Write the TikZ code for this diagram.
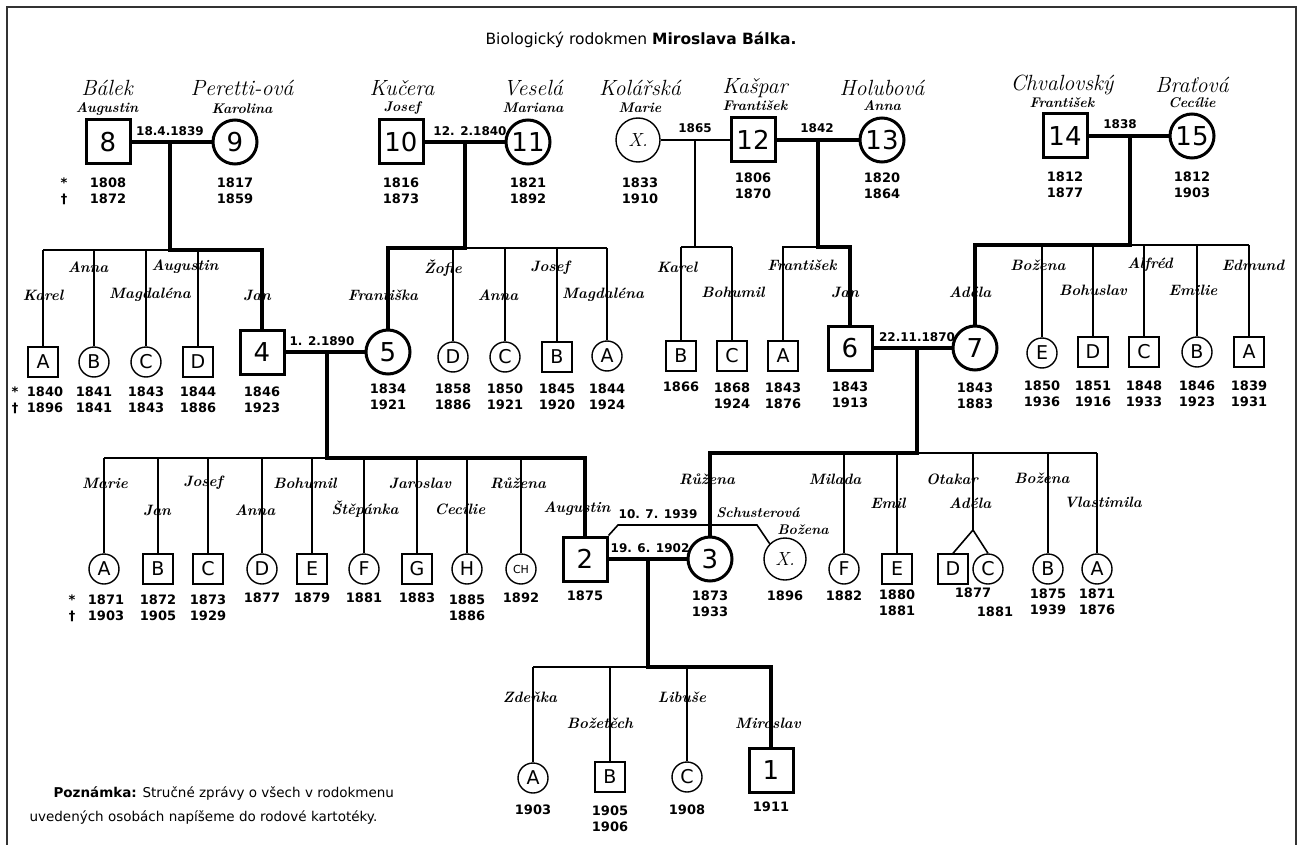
\documentclass[tikz,border=0pt]{standalone}
\usepackage{fontspec}
\setsansfont{DejaVu Sans}
\usetikzlibrary{positioning}

\tikzset{
  man/.style={draw, rectangle, minimum size=30pt, inner sep=0pt, line width=1.4pt, font=\sffamily\fontsize{19}{19}\selectfont},
  woman/.style={draw, circle, minimum size=30pt, inner sep=0pt, line width=1.4pt, font=\sffamily\fontsize{19}{19}\selectfont},
  anc/.style={minimum size=44pt, line width=3pt, font=\sffamily\fontsize{26}{26}\selectfont},
  surname/.style={font=\itshape\fontsize{22}{22}\selectfont},
  given/.style={font=\bfseries\itshape\fontsize{14}{14}\selectfont},
  kid/.style={font=\bfseries\itshape\fontsize{15}{15}\selectfont},
  yrs/.style={font=\sffamily\bfseries\fontsize{13}{16}\selectfont, align=center, inner sep=0pt},
  wed/.style={font=\sffamily\bfseries\fontsize{12}{12}\selectfont, inner sep=1pt},
  fine/.style={line width=1.6pt},
  heavy/.style={line width=3.8pt},
}

\begin{document}
\begin{tikzpicture}[x=1pt, y=-1pt]
  \useasboundingbox (0,0) rectangle (1303,845);
  \draw[line width=2.5pt, black!80] (7,845) -- (7,7) -- (1296,7) -- (1296,845);

  \node[font=\sffamily\fontsize{15.5}{15.5}\selectfont] (title) at (641,40) {Biologický rodokmen \textbf{Miroslava Bálka.}};

  % generation 1
  \node[man, anc] (n8) at (108,142) {8};
  \node[woman, anc] (n9) at (235,142) {9};
  \node[man, anc] (n10) at (401,142) {10};
  \node[woman, anc] (n11) at (528,142) {11};
  \node[woman, minimum size=44pt] (nX1) at (638,140) {\rmfamily\itshape X.};
  \node[man, anc] (n12) at (753,140) {12};
  \node[woman, anc] (n13) at (882,140) {13};
  \node[man, anc] (n14) at (1065,136) {14};
  \node[woman, anc] (n15) at (1192,136) {15};

  \node[surname] (sn8) at (107,88) {Bálek};
  \node[given] (gn8) at (107,109) {Augustin};
  \node[surname] (sn9) at (242,88) {Peretti-ová};
  \node[given] (gn9) at (242,109) {Karolina};
  \node[surname] (sn10) at (402,88) {Kučera};
  \node[given] (gn10) at (402,108) {Josef};
  \node[surname] (sn11) at (533,88) {Veselá};
  \node[given] (gn11) at (533,108) {Mariana};
  \node[surname] (snX1) at (640,88) {Kolářská};
  \node[given] (gnX1) at (640,108) {Marie};
  \node[surname] (sn12) at (755,88) {Kašpar};
  \node[given] (gn12) at (755,106) {František};
  \node[surname] (sn13) at (882,88) {Holubová};
  \node[given] (gn13) at (882,106) {Anna};
  \node[surname] (sn14) at (1062,85) {Chvalovský};
  \node[given] (gn14) at (1062,103) {František};
  \node[surname] (sn15) at (1192,85) {Braťová};
  \node[given] (gn15) at (1192,103) {Cecílie};

  \node[yrs] (s8) at (64,191) {*\\†};
  \node[yrs] (y8) at (108,191) {1808\\1872};
  \node[yrs] (y9) at (235,191) {1817\\1859};
  \node[yrs] (y10) at (401,191) {1816\\1873};
  \node[yrs] (y11) at (528,191) {1821\\1892};
  \node[yrs] (yX1) at (640,191) {1833\\1910};
  \node[yrs] (y12) at (753,186) {1806\\1870};
  \node[yrs] (y13) at (882,186) {1820\\1864};
  \node[yrs] (y14) at (1065,185) {1812\\1877};
  \node[yrs] (y15) at (1192,185) {1812\\1903};

  \draw[heavy] (n8) -- (n9);
  \draw[heavy] (n10) -- (n11);
  \draw[fine] (nX1) -- (n12);
  \draw[heavy] (n12) -- (n13);
  \draw[heavy] (n14) -- (n15);
  \node[wed] (w89) at (170,131) {18.4.1839};
  \node[wed] (w1011) at (470,131) {12. 2.1840};
  \node[wed] (wX12) at (695,128) {1865};
  \node[wed] (w1213) at (817,128) {1842};
  \node[wed] (w1415) at (1120,124) {1838};

  % generation 2
  \node[man] (a89) at (43,362) {A};
  \node[woman] (b89) at (94,362) {B};
  \node[woman] (c89) at (146,362) {C};
  \node[man] (d89) at (198,362) {D};
  \node[man, anc] (n4) at (262,352) {4};
  \node[woman, anc] (n5) at (388,352) {5};
  \node[woman] (d1011) at (453,357) {D};
  \node[woman] (c1011) at (505,357) {C};
  \node[man] (b1011) at (557,357) {B};
  \node[woman] (a1011) at (607,356) {A};
  \node[man] (b12) at (681,356) {B};
  \node[man] (c12) at (732,356) {C};
  \node[man] (a1213) at (783,356) {A};
  \node[man, anc] (n6) at (850,348) {6};
  \node[woman, anc] (n7) at (975,348) {7};
  \node[woman] (e1415) at (1042,353) {E};
  \node[man] (d1415) at (1093,352) {D};
  \node[man] (c1415) at (1144,352) {C};
  \node[woman] (b1415) at (1197,352) {B};
  \node[man] (a1415) at (1249,352) {A};

  % 8 + 9
  \coordinate (m89) at (170,142);
  \coordinate (r89) at (0,250);
  \draw[heavy] (m89) -- (m89 |- r89) -| (n4.north);
  \draw[fine] (m89 |- r89) -- (a89.north |- r89);
  \foreach \k in {a89,b89,c89,d89} \draw[fine] (\k.north |- r89) -- (\k.north);
  % 10 + 11
  \coordinate (m1011) at (465,142);
  \coordinate (r1011) at (0,248);
  \draw[heavy] (m1011) -- (m1011 |- r1011) -| (n5.north);
  \draw[fine] (m1011 |- r1011) -- (a1011.north |- r1011);
  \foreach \k in {d1011,c1011,b1011,a1011} \draw[fine] (\k.north |- r1011) -- (\k.north);
  % X + 12
  \coordinate (mX12) at (695,140);
  \coordinate (rX12) at (0,247);
  \draw[fine] (mX12) -- (mX12 |- rX12);
  \draw[fine] (b12.north |- rX12) -- (c12.north |- rX12);
  \foreach \k in {b12,c12} \draw[fine] (\k.north |- rX12) -- (\k.north);
  % 12 + 13
  \coordinate (m1213) at (818,140);
  \coordinate (r1213) at (0,247);
  \draw[heavy] (m1213) -- (m1213 |- r1213) -| (n6.north);
  \draw[fine] (m1213 |- r1213) -- (a1213.north |- r1213) -- (a1213.north);
  % 14 + 15
  \coordinate (m1415) at (1130,136);
  \coordinate (r1415) at (0,245);
  \draw[heavy] (m1415) -- (m1415 |- r1415) -| (n7.north);
  \draw[fine] (m1415 |- r1415) -- (a1415.north |- r1415);
  \foreach \k in {e1415,d1415,c1415,b1415,a1415} \draw[fine] (\k.north |- r1415) -- (\k.north);

  \node[kid] (l89b) at (88,267) {Anna};
  \node[kid] (l89d) at (185,267) {Augustin};
  \node[kid] (l89a) at (43,295) {Karel};
  \node[kid] (l89c) at (150,295) {Magdaléna};
  \node[kid] (l4) at (257,295) {Jan};
  \node[kid] (l1011d) at (443,268) {Žofie};
  \node[kid] (l1011b) at (550,268) {Josef};
  \node[kid] (l5) at (383,295) {Františka};
  \node[kid] (l1011c) at (498,295) {Anna};
  \node[kid] (l1011a) at (603,295) {Magdaléna};
  \node[kid] (l12b) at (677,267) {Karel};
  \node[kid] (l12c) at (733,292) {Bohumil};
  \node[kid] (l1213a) at (802,265) {František};
  \node[kid] (l6) at (845,292) {Jan};
  \node[kid] (l1415e) at (1038,265) {Božena};
  \node[kid] (l1415c) at (1150,265) {Alfréd};
  \node[kid] (l1415a) at (1253,265) {Edmund};
  \node[kid] (l7) at (970,292) {Adéla};
  \node[kid] (l1415d) at (1093,290) {Bohuslav};
  \node[kid] (l1415b) at (1193,290) {Emilie};

  \node[yrs] (sa89) at (15,400) {*\\†};
  \node[yrs] (ya89) at (45,400) {1840\\1896};
  \node[yrs] (yb89) at (94,400) {1841\\1841};
  \node[yrs] (yc89) at (146,400) {1843\\1843};
  \node[yrs] (yd89) at (198,400) {1844\\1886};
  \node[yrs] (y4) at (262,400) {1846\\1923};
  \node[yrs] (y5) at (388,397) {1834\\1921};
  \node[yrs] (yd1011) at (453,397) {1858\\1886};
  \node[yrs] (yc1011) at (505,397) {1850\\1921};
  \node[yrs] (yb1011) at (557,397) {1845\\1920};
  \node[yrs] (ya1011) at (607,397) {1844\\1924};
  \node[yrs] (yb12) at (681,387) {1866};
  \node[yrs] (yc12) at (732,396) {1868\\1924};
  \node[yrs] (ya1213) at (783,396) {1843\\1876};
  \node[yrs] (y6) at (850,395) {1843\\1913};
  \node[yrs] (y7) at (975,396) {1843\\1883};
  \node[yrs] (ye1415) at (1042,394) {1850\\1936};
  \node[yrs] (yd1415) at (1093,394) {1851\\1916};
  \node[yrs] (yc1415) at (1144,394) {1848\\1933};
  \node[yrs] (yb1415) at (1197,394) {1846\\1923};
  \node[yrs] (ya1415) at (1249,394) {1839\\1931};

  \draw[heavy] (n4) -- (n5);
  \draw[heavy] (n6) -- (n7);
  \node[wed] (w45) at (322,341) {1. 2.1890};
  \node[wed] (w67) at (917,337) {22.11.1870};

  % generation 3
  \node[woman] (a45) at (104,569) {A};
  \node[man] (b45) at (158,569) {B};
  \node[man] (c45) at (208,569) {C};
  \node[woman] (d45) at (262,569) {D};
  \node[man] (e45) at (312,569) {E};
  \node[woman] (f45) at (364,569) {F};
  \node[man] (g45) at (417,569) {G};
  \node[woman] (h45) at (467,569) {H};
  \node[woman, font=\sffamily\fontsize{11}{11}\selectfont] (ch45) at (521,569) {CH};
  \node[man, anc] (n2) at (585,559) {2};
  \node[woman, anc] (n3) at (710,559) {3};
  \node[woman, minimum size=42pt] (nX2) at (785,559) {\rmfamily\itshape X.};
  \node[woman] (f67) at (844,569) {F};
  \node[man] (e67) at (897,569) {E};
  \node[man] (d67) at (953,569) {D};
  \node[woman] (c67) at (988,569) {C};
  \node[woman] (b67) at (1048,569) {B};
  \node[woman] (a67) at (1097,569) {A};

  % 4 + 5
  \coordinate (m45) at (327,352);
  \coordinate (r45) at (0,458);
  \draw[heavy] (m45) -- (m45 |- r45) -| (n2.north);
  \draw[fine] (m45 |- r45) -- (a45.north |- r45);
  \foreach \k in {a45,b45,c45,d45,e45,f45,g45,h45,ch45} \draw[fine] (\k.north |- r45) -- (\k.north);
  % 6 + 7
  \coordinate (m67) at (917,348);
  \coordinate (r67) at (0,453);
  \coordinate (tw) at (973,530);
  \draw[heavy] (m67) -- (m67 |- r67) -| (n3.north);
  \draw[fine] (m67 |- r67) -- (a67.north |- r67);
  \foreach \k in {f67,e67,b67,a67} \draw[fine] (\k.north |- r67) -- (\k.north);
  \draw[fine] (tw |- r67) -- (tw) -- (d67.north);
  \draw[fine] (tw) -- (c67.north);
  % 2 + 3, 2 + X
  \coordinate (w2a) at (618,525);
  \coordinate (w2b) at (757,525);
  \draw[fine] (n2.north east) -- (w2a) -- (w2b) -- (nX2.north west);
  \draw[heavy] (n2) -- (n3);
  \node[wed] (w23) at (650,548) {19. 6. 1902};
  \node[wed] (w2X) at (658,514) {10. 7. 1939};
  \node[given] (snX2) at (758,513) {Schusterová};
  \node[given] (gnX2) at (803,530) {Božena};

  \node[kid] (l45a) at (105,483) {Marie};
  \node[kid] (l45b) at (157,510) {Jan};
  \node[kid] (l45c) at (203,483) {Josef};
  \node[kid] (l45d) at (255,510) {Anna};
  \node[kid] (l45e) at (305,483) {Bohumil};
  \node[kid] (l45f) at (365,509) {Štěpánka};
  \node[kid] (l45g) at (420,483) {Jaroslav};
  \node[kid] (l45h) at (460,509) {Cecílie};
  \node[kid] (l45ch) at (518,483) {Růžena};
  \node[kid] (l2) at (577,509) {Augustin};
  \node[kid] (l3) at (707,479) {Růžena};
  \node[kid] (l67f) at (835,479) {Milada};
  \node[kid] (l67d) at (952,479) {Otakar};
  \node[kid] (l67b) at (1042,478) {Božena};
  \node[kid] (l67e) at (888,503) {Emil};
  \node[kid] (l67c) at (970,503) {Adéla};
  \node[kid] (l67a) at (1103,502) {Vlastimila};

  \node[yrs] (sa45) at (72,608) {*\\†};
  \node[yrs] (ya45) at (106,608) {1871\\1903};
  \node[yrs] (yb45) at (158,608) {1872\\1905};
  \node[yrs] (yc45) at (208,608) {1873\\1929};
  \node[yrs] (yd45) at (262,598) {1877};
  \node[yrs] (ye45) at (312,598) {1879};
  \node[yrs] (yf45) at (364,598) {1881};
  \node[yrs] (yg45) at (417,598) {1883};
  \node[yrs] (yh45) at (467,608) {1885\\1886};
  \node[yrs] (ych45) at (521,598) {1892};
  \node[yrs] (y2) at (585,596) {1875};
  \node[yrs] (y3) at (710,604) {1873\\1933};
  \node[yrs] (yX2) at (785,596) {1896};
  \node[yrs] (yf67) at (844,596) {1882};
  \node[yrs] (ye67) at (897,603) {1880\\1881};
  \node[yrs] (ytw1) at (973,593) {1877};
  \node[yrs] (ytw2) at (995,612) {1881};
  \node[yrs] (yb67) at (1048,602) {1875\\1939};
  \node[yrs] (ya67) at (1097,602) {1871\\1876};

  % generation 4
  \node[woman] (a23) at (533,778) {A};
  \node[man] (b23) at (610,777) {B};
  \node[woman] (c23) at (687,777) {C};
  \node[man, anc] (n1) at (771,770) {1};

  \coordinate (m23) at (648,559);
  \coordinate (r23) at (0,667);
  \draw[heavy] (m23) -- (m23 |- r23) -| (n1.north);
  \draw[fine] (m23 |- r23) -- (a23.north |- r23);
  \foreach \k in {a23,b23,c23} \draw[fine] (\k.north |- r23) -- (\k.north);

  \node[kid] (l23a) at (530,697) {Zdeňka};
  \node[kid] (l23b) at (600,723) {Božetěch};
  \node[kid] (l23c) at (682,697) {Libuše};
  \node[kid] (l1) at (768,723) {Miroslav};

  \node[yrs] (ya23) at (533,810) {1903};
  \node[yrs] (yb23) at (610,819) {1905\\1906};
  \node[yrs] (yc23) at (687,810) {1908};
  \node[yrs] (y1) at (771,807) {1911};

  \node[anchor=west, align=left, font=\sffamily\fontsize{13.5}{24}\selectfont] (note) at (26,805)
    {\hspace*{24pt}\textbf{Poznámka:} Stručné zprávy o všech v rodokmenu\\uvedených osobách napíšeme do rodové kartotéky.};
\end{tikzpicture}
\end{document}
